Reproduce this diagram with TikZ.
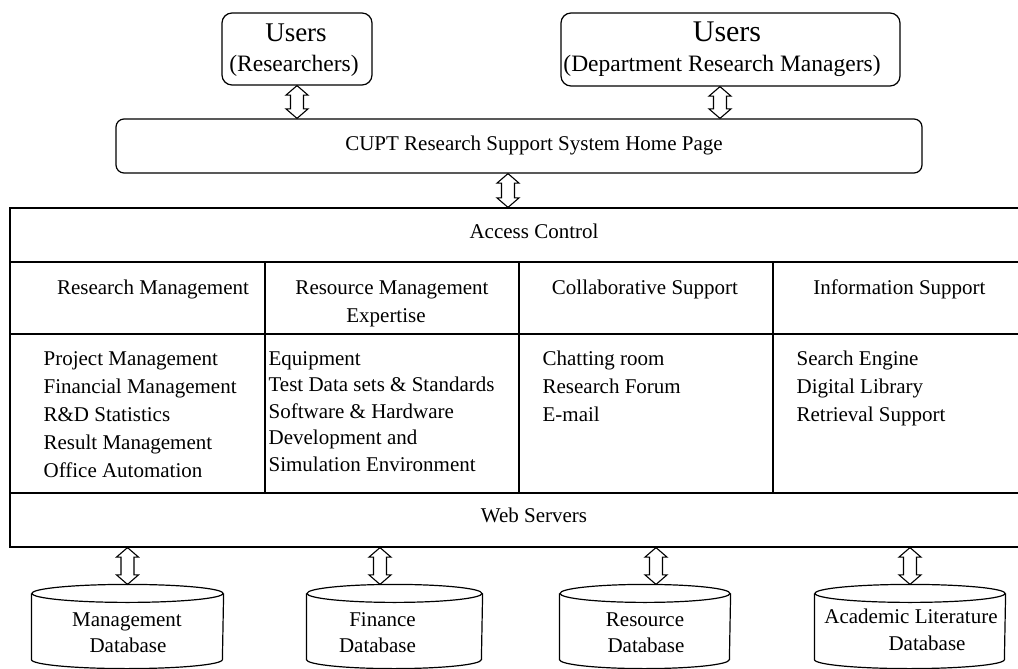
\documentclass[tikz,border=0pt]{standalone}
\usepackage{fontspec}
\setmainfont{Liberation Serif}
\usetikzlibrary{calc}

% cylinder for a database: name, centre x, half width
\newcommand\dbcyl[3]{%
  \node[dbbody, minimum width=2*#3] (#1) at (#2,626.5) {};
  \draw (#1.north west) -- (#1.south west)
        arc[start angle=180, end angle=360, x radius=#3pt, y radius=9pt]
        -- (#1.north east);
  \draw (#1.north) ellipse[x radius=#3pt, y radius=9pt];
  \coordinate (#1-top) at ($(#1.north)+(0,-9)$);
}

\begin{document}
\begin{tikzpicture}[x=1pt, y=-1pt, line width=1.2pt,
  ubox/.style={draw, rounded corners=10pt, inner sep=0pt},
  dbbody/.style={inner sep=0pt, minimum height=65pt},
  txt/.style={inner sep=0pt, anchor=base, font=\fontsize{21}{25}\selectfont},
  item/.style={txt, anchor=base west},
  dblarrow/.style={line width=1.1pt, to path={
    let \p1=(\tikztostart), \p2=(\tikztotarget) in
      -- ({\x1+11pt},{\y1-9.5pt}) -- ({\x1+6.5pt},{\y1-9.5pt})
      -- ({\x1+6.5pt},{\y2+9.5pt}) -- ({\x1+11pt},{\y2+9.5pt})
      -- (\x1,\y2)
      -- ({\x1-11pt},{\y2+9.5pt}) -- ({\x1-6.5pt},{\y2+9.5pt})
      -- ({\x1-6.5pt},{\y1-9.5pt}) -- ({\x1-11pt},{\y1-9.5pt}) -- cycle}}
]
\useasboundingbox (0,0) rectangle (1018,669);

% user boxes
\node[ubox, minimum width=150pt, minimum height=72pt] (u1) at (297,49) {};
\node[txt, font=\fontsize{27}{30}\selectfont] (u1a) at (296,42) {Users};
\node[txt, font=\fontsize{23.5}{28}\selectfont] (u1b) at (294,72) {(Researchers)};

\node[ubox, minimum width=339pt, minimum height=73pt] (u2) at (730.5,49.5) {};
\node[txt, font=\fontsize{30}{33}\selectfont] (u2a) at (727,42) {Users};
\node[txt, font=\fontsize{23.5}{28}\selectfont] (u2b) at (722,72) {(Department Research Managers)};

% home page
\node[ubox, rounded corners=8pt, minimum width=806pt, minimum height=54pt] (home) at (519,146) {};
\node[txt] (homet) at (534,150) {CUPT Research Support System Home Page};

% system block
\node[draw, inner sep=0pt, minimum width=1050pt, minimum height=339pt] (sys) at (535,377.5) {};
\draw (10,262) -- (1060,262);
\draw (10,334) -- (1060,334);
\draw (10,493) -- (1060,493);
\foreach \cx in {265,519,773} \draw (\cx,262) -- (\cx,493);

\node[txt] (acc) at (534,238) {Access Control};
\node[txt] (web) at (534,522) {Web Servers};

\node[txt] (h1) at (153,294) {Research Management};
\node[txt] (h2) at (392,294) {Resource Management};
\node[txt] (h2b) at (386,322) {Expertise};
\node[txt] (h3) at (645,294) {Collaborative Support};
\node[txt] (h4) at (899.5,294) {Information Support};

\foreach \t [count=\i from 0] in {Project Management, Financial Management,
    R\&D Statistics, Result Management, Office Automation}
  \node[item] (c1-\i) at (43,365+28*\i) {\t};
\foreach \t [count=\i from 0] in {Equipment, Test Data sets \& Standards,
    Software \& Hardware, Development and, Simulation Environment}
  \node[item] (c2-\i) at (268,365+26.5*\i) {\t};
\foreach \t [count=\i from 0] in {Chatting room, Research Forum, E-mail}
  \node[item] (c3-\i) at (542,365+28*\i) {\t};
\foreach \t [count=\i from 0] in {Search Engine, Digital Library, Retrieval Support}
  \node[item] (c4-\i) at (796,365+28*\i) {\t};

% databases
\dbcyl{db1}{127.5}{95.5}
\dbcyl{db2}{394.5}{87.5}
\dbcyl{db3}{645}{85}
\dbcyl{db4}{910}{95}

\node[txt] (d1a) at (127,626) {Management};
\node[txt] (d1b) at (128,652) {Database};
\node[txt] (d2a) at (382.5,626) {Finance};
\node[txt] (d2b) at (377.5,652) {Database};
\node[txt] (d3a) at (645,626) {Resource};
\node[txt] (d3b) at (646,652) {Database};
\node[txt] (d4a) at (911,623) {Academic Literature};
\node[txt] (d4b) at (927,650) {Database};

% connectors
\draw[dblarrow] (u1.south) to (u1.south |- home.north);
\draw[dblarrow] ($(u2.south)+(-10.5,0)$) to ($(u2.south |- home.north)+(-10.5,0)$);
\draw[dblarrow] ($(home.south)+(-11,0)$) to ($(home.south |- sys.north)+(-11,0)$);
\draw[dblarrow] (db1-top |- sys.south) to (db1-top);
\draw[dblarrow] ($(db2-top |- sys.south)+(-14.5,0)$) to ($(db2-top)+(-14.5,0)$);
\draw[dblarrow] ($(db3-top |- sys.south)+(11,0)$) to ($(db3-top)+(11,0)$);
\draw[dblarrow] (db4-top |- sys.south) to (db4-top);
\end{tikzpicture}
\end{document}
